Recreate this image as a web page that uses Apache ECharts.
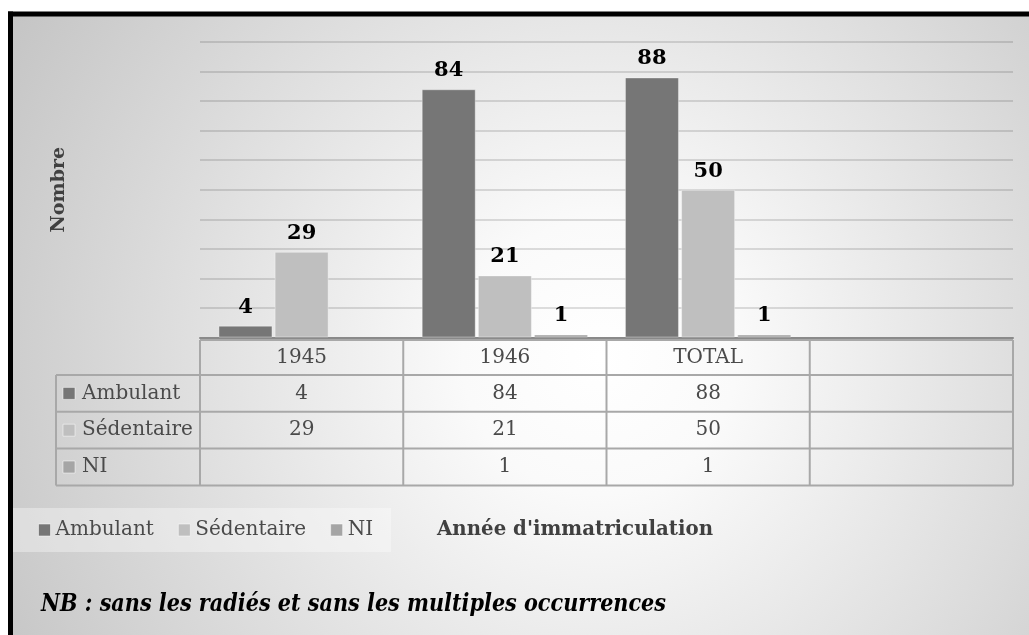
<!DOCTYPE html>
<html><head><meta charset="utf-8">
<script src="https://cdn.jsdelivr.net/npm/echarts@6/dist/echarts.min.js"></script>
<style>html,body{margin:0;padding:0;background:#fff;overflow:hidden}#c{width:1029px;height:635px}</style>
</head><body><div id="c"></div>
<script>
// ---- data ----
const categories = ['1945', '1946', 'TOTAL', ''];
const seriesNames = ['Ambulant', 'Sédentaire', 'NI'];
const ambulant = [4, 84, 88, null];
const sedentaire = [29, 21, 50, null];
const ni = [null, 1, 1, null];
const yMin = 0, yMax = 100, yInterval = 10;
const xTitle = "Année d'immatriculation";
const yTitle = 'Nombre';
const note = 'NB : sans les radiés et sans les multiples occurrences';

// ---- style ----
const colors = ['#767676', '#bfbfbf', '#a5a5a5'];
const FONT = "'DejaVu Serif', serif";
const TXT = '#4a4a4a';
const LINE = '#a8a8a8';

const seriesData = [ambulant, sedentaire, ni];
const chart = echarts.init(document.getElementById('c'), null, {renderer: 'canvas'});

const option = {
  backgroundColor: '#ffffff',
  animation: false,
  grid: {left: 200, right: 16, top: 42, bottom: 297.5, containLabel: false},
  xAxis: {
    type: 'category', data: categories,
    axisTick: {show: false},
    axisLine: {show: true, lineStyle: {color: '#8a8a8a', width: 2}},
    axisLabel: {show: true, interval: 0, margin: 10, fontFamily: FONT, fontSize: 20, color: TXT},
    splitLine: {show: false}
  },
  yAxis: {
    type: 'value', min: yMin, max: yMax, interval: yInterval,
    name: yTitle, nameLocation: 'middle', nameGap: 131, nameRotate: 90,
    nameTextStyle: {fontFamily: FONT, fontWeight: 'bold', fontSize: 19, color: '#404040'},
    axisLabel: {show: false}, axisTick: {show: false}, axisLine: {show: false},
    splitLine: {show: true, lineStyle: {color: 'rgba(0,0,0,0.17)', width: 1.5}}
  },
  legend: {
    data: seriesNames, left: 13, top: 508, icon: 'rect', itemWidth: 12, itemHeight: 12, itemGap: 24,
    padding: [12, 18, 12, 25], backgroundColor: 'rgba(255,255,255,0.35)',
    textStyle: {fontFamily: FONT, fontSize: 20, color: TXT},
    itemStyle: {borderColor: 'rgba(255,255,255,0.5)', borderWidth: 1}
  },
  series: seriesNames.map((n, i) => ({
    name: n, type: 'bar', data: seriesData[i], barWidth: 54, barGap: '4%',
    itemStyle: {color: colors[i], borderColor: 'rgba(255,255,255,0.35)', borderWidth: 1},
    label: {show: true, position: 'top', distance: 8, fontFamily: FONT, fontWeight: 'bold', fontSize: 21, color: '#000'}
  }))
};
chart.setOption(option);

// ---- table, titles, background built from the axes ----
const mctx = document.createElement('canvas').getContext('2d');
function fit(text, font, target) { mctx.font = font; return target / mctx.measureText(text).width; }

const c0 = chart.convertToPixel({xAxisIndex: 0}, categories[0]);
const c1 = chart.convertToPixel({xAxisIndex: 0}, categories[1]);
const band = c1 - c0;
const base = chart.convertToPixel({yAxisIndex: 0}, yMin);
const colEdges = categories.map((c, i) => c0 - band / 2 + i * band);
colEdges.push(c0 - band / 2 + categories.length * band);
const rowH = 36.8;
const tableTop = base + 2.5;
const headerBottom = tableTop + 35;
const rowEdges = [headerBottom];
for (let r = 0; r < seriesNames.length; r++) rowEdges.push(headerBottom + (r + 1) * rowH);
const labelLeft = 56;
const tableRight = colEdges[colEdges.length - 1];
const tableBottom = rowEdges[rowEdges.length - 1];

const g = [];
g.push({type: 'rect', z: -10, shape: {x: 10, y: 14, width: 1100, height: 700},
  style: {fill: {type: 'radial', x: 0.536, y: 0.49, r: 0.98, colorStops: [
    {offset: 0, color: '#ffffff'}, {offset: 0.2, color: '#fafafa'}, {offset: 1, color: '#c4c4c4'}]}}});
// outer frame (right and bottom edges are off-page in the reference)
g.push({type: 'line', z: 80, shape: {x1: 10.5, y1: 11.5, x2: 10.5, y2: 700}, style: {stroke: '#000', lineWidth: 5}});
g.push({type: 'line', z: 80, shape: {x1: 8, y1: 14, x2: 1100, y2: 14}, style: {stroke: '#000', lineWidth: 5}});

// horizontal lines
g.push({type: 'line', z: 50, shape: {x1: colEdges[0], y1: tableTop, x2: tableRight, y2: tableTop}, style: {stroke: LINE, lineWidth: 2}});
rowEdges.forEach(y => g.push({type: 'line', z: 50, shape: {x1: labelLeft, y1: y, x2: tableRight, y2: y}, style: {stroke: LINE, lineWidth: 2}}));
// vertical lines
colEdges.forEach(x => g.push({type: 'line', z: 50, shape: {x1: x, y1: tableTop, x2: x, y2: tableBottom}, style: {stroke: LINE, lineWidth: 2}}));
g.push({type: 'line', z: 50, shape: {x1: labelLeft, y1: headerBottom, x2: labelLeft, y2: tableBottom}, style: {stroke: LINE, lineWidth: 2}});

// row labels and values
seriesNames.forEach((n, r) => {
  const cy = (rowEdges[r] + rowEdges[r + 1]) / 2;
  g.push({type: 'rect', z: 60, shape: {x: 63, y: cy - 6, width: 12, height: 12},
    style: {fill: colors[r], stroke: 'rgba(255,255,255,0.5)', lineWidth: 1}});
  g.push({type: 'text', z: 60, x: 82, y: cy,
    style: {text: n, fontFamily: FONT, fontSize: 20, fill: TXT, textAlign: 'left', textVerticalAlign: 'middle', align: 'left', verticalAlign: 'middle'}});
  seriesData[r].forEach((v, ci) => {
    if (v === null || v === undefined) return;
    const cx = chart.convertToPixel({xAxisIndex: 0}, categories[ci]);
    g.push({type: 'text', z: 60, x: cx, y: cy,
      style: {text: String(v), fontFamily: FONT, fontSize: 20, fill: TXT, textAlign: 'center', textVerticalAlign: 'middle', align: 'center', verticalAlign: 'middle'}});
  });
});

// x axis title
const xFont = "bold 21px 'DejaVu Serif'";
g.push({type: 'text', z: 60, x: 437, y: 530, scaleX: fit(xTitle, xFont, 276),
  style: {text: xTitle, fontFamily: FONT, fontWeight: 'bold', fontSize: 21, fill: '#404040', textAlign: 'left', textVerticalAlign: 'middle', align: 'left', verticalAlign: 'middle'}});

// note
const nFont = "italic bold 24px 'DejaVu Serif'";
g.push({type: 'text', z: 60, x: 41, y: 605, scaleX: fit(note, nFont, 625),
  style: {text: note, fontFamily: FONT, fontWeight: 'bold', fontStyle: 'italic', fontSize: 24, fill: '#000', textAlign: 'left', textVerticalAlign: 'middle', align: 'left', verticalAlign: 'middle'}});

chart.setOption({graphic: g});
</script></body></html>
